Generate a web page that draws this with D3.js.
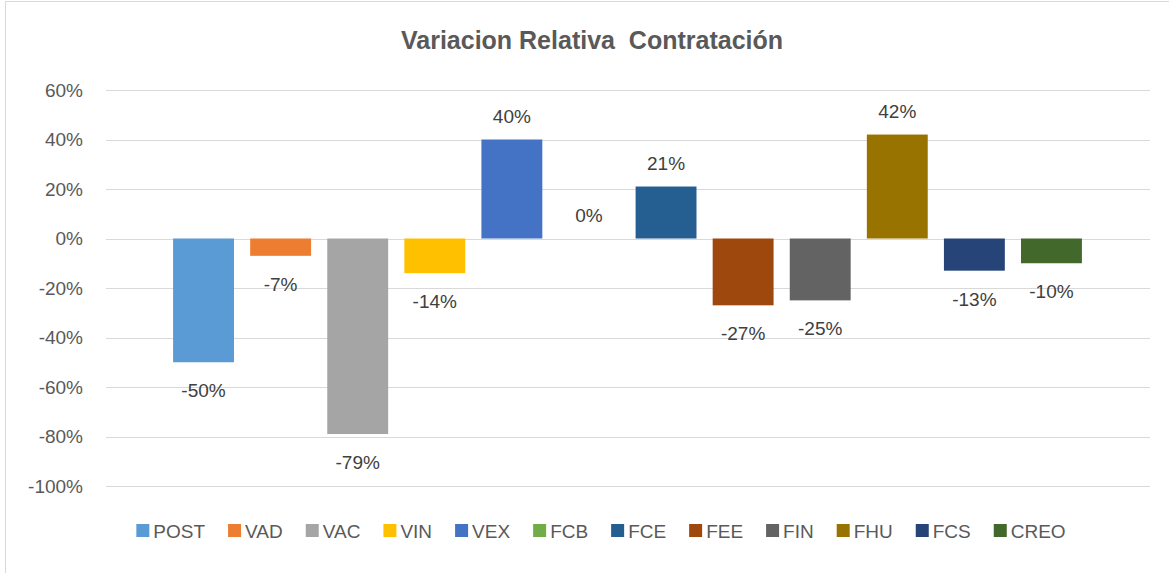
<!DOCTYPE html>
<html>
<head>
  <meta charset="utf-8" />
  <title>Variacion Relativa Contratación</title>
  <script src="https://d3js.org/d3.v7.min.js"></script>
</head>
<body>
  <div id='graph'></div>
</body>
<style>
  body { margin: 0; background: #fff; }
  text { font-family: 'Liberation Sans', Arial, sans-serif; }
</style>
<script>
  // data
  const categories = ['POST', 'VAD', 'VAC', 'VIN', 'VEX', 'FCB', 'FCE', 'FEE', 'FIN', 'FHU', 'FCS', 'CREO']
  const values = [-0.50, -0.07, -0.79, -0.14, 0.40, 0.00, 0.21, -0.27, -0.25, 0.42, -0.13, -0.10]
  const colors = ['#5B9BD5', '#ED7D31', '#A5A5A5', '#FFC000', '#4472C4', '#70AD47', '#255E91', '#9E480E', '#636363', '#997300', '#264478', '#43682B']
  const yTicks = [0.6, 0.4, 0.2, 0, -0.2, -0.4, -0.6, -0.8, -1.0]

  const W = 1169, H = 573
  const pct = d => d3.format('.0%')(d).replace('−', '-')

  const svg = d3.select('#graph').append('svg')
    .attr('width', W)
    .attr('height', H)

  // chart border
  svg.append('rect')
    .attr('x', 5.5).attr('y', 1.5)
    .attr('width', W).attr('height', H + 10)
    .attr('fill', 'none')
    .attr('stroke', '#d9d9d9')

  svg.append('text')
    .attr('x', 592).attr('y', 49)
    .attr('text-anchor', 'middle')
    .attr('font-size', 25)
    .attr('font-weight', 'bold')
    .attr('fill', '#595959')
    .style('white-space', 'pre')
    .text('Variacion Relativa  Contratación')

  var xScale = d3.scaleBand().domain(categories).range([165, 1090]).paddingInner(0.21).paddingOuter(0.105)
  var yScale = d3.scaleLinear().domain([-1.0, 0.6]).range([486, 90])

  // gridlines
  svg.append('g').selectAll('line')
    .data(yTicks)
    .enter()
    .append('line')
    .attr('x1', 106).attr('x2', 1150)
    .attr('y1', d => Math.round(yScale(d)) + 0.5)
    .attr('y2', d => Math.round(yScale(d)) + 0.5)
    .attr('stroke', '#d9d9d9')
    .attr('stroke-width', 1)

  // y axis labels
  const yAxis = svg.append('g')
    .attr('transform', 'translate(83,0)')
    .call(d3.axisLeft(yScale).tickValues(yTicks).tickFormat(pct).tickSize(0).tickPadding(0))
  yAxis.select('.domain').remove()
  yAxis.selectAll('text')
    .attr('font-size', 19)
    .attr('fill', '#595959')
    .attr('font-family', "'Liberation Sans', Arial, sans-serif")

  const data = categories.map((c, i) => ({ cat: c, value: values[i], color: colors[i] }))

  // bars
  svg.append('g').selectAll('rect')
    .data(data)
    .enter()
    .append('rect')
    .attr('x', d => xScale(d.cat))
    .attr('width', xScale.bandwidth())
    .attr('y', d => yScale(Math.max(0, d.value)))
    .attr('height', d => Math.abs(yScale(d.value) - yScale(0)))
    .attr('fill', d => d.color)

  // value labels
  svg.append('g').selectAll('text')
    .data(data)
    .enter()
    .append('text')
    .attr('x', d => xScale(d.cat) + xScale.bandwidth() / 2)
    .attr('y', d => d.value >= 0 ? yScale(d.value) - 17 : yScale(d.value) + 35)
    .attr('text-anchor', 'middle')
    .attr('font-size', 19)
    .attr('fill', '#404040')
    .text(d => pct(d.value))

  // legend, laid out by text width
  const legend = svg.append('g')
  let lx = 0
  data.forEach(d => {
    const g = legend.append('g')
    g.append('rect').attr('x', lx).attr('y', 524).attr('width', 13).attr('height', 13).attr('fill', d.color)
    const t = g.append('text').attr('x', lx + 17).attr('y', 538)
      .attr('font-size', 19).attr('fill', '#595959').text(d.cat)
    lx += 17 + t.node().getComputedTextLength() + 23
  })
  const lw = lx - 23
  legend.attr('transform', 'translate(' + (601 - lw / 2) + ',0)')
</script>
</html>
